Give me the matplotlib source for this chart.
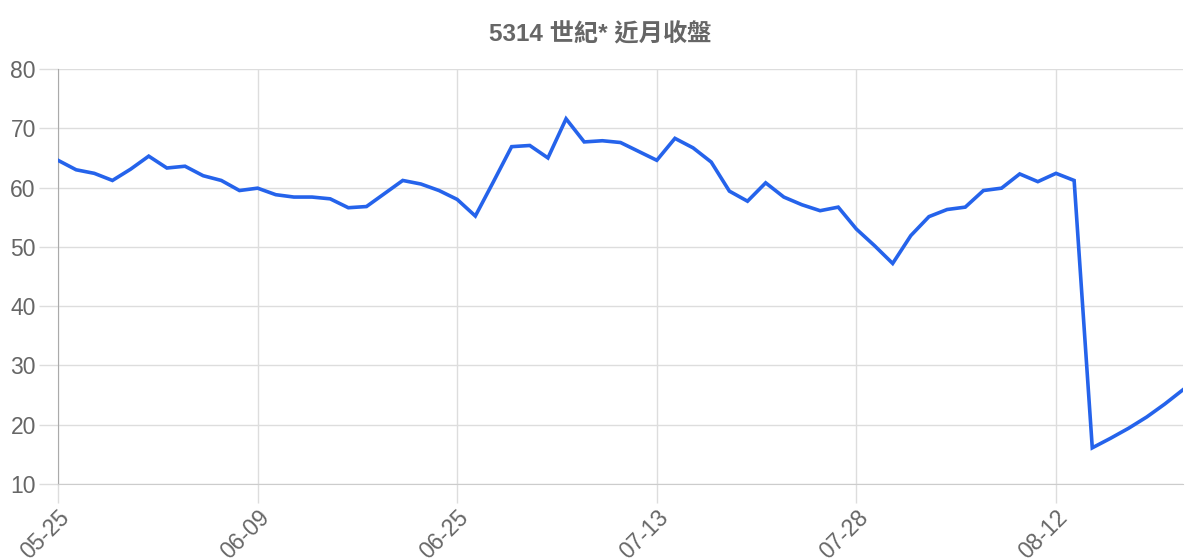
import matplotlib
matplotlib.use('Agg')
import matplotlib.pyplot as plt

# Data
dates = ['05-25', '05-26', '05-27', '05-29', '05-30', '05-31', '06-01', '06-02', '06-05', '06-06', '06-08',
         '06-09', '06-10', '06-12', '06-13', '06-15', '06-16', '06-17', '06-19', '06-20', '06-22', '06-23',
         '06-25', '06-26', '06-27', '06-29', '06-30', '07-01', '07-03', '07-05', '07-06', '07-08', '07-10',
         '07-13', '07-14', '07-15', '07-17', '07-18', '07-20', '07-21', '07-22', '07-24', '07-25', '07-27',
         '07-28', '07-29', '07-31', '08-01', '08-03', '08-04', '08-05', '08-07', '08-08', '08-10', '08-11',
         '08-12', '08-14', '08-15', '08-17', '08-18', '08-19', '08-21', '08-22']
close = [64.6, 63.0, 62.4, 61.2, 63.1, 65.3, 63.3, 63.6, 62.0, 61.2, 59.5,
         59.9, 58.8, 58.4, 58.4, 58.1, 56.6, 56.8, 59.0, 61.2, 60.6, 59.5,
         58.0, 55.2, 61.0, 66.9, 67.1, 65.0, 71.6, 67.7, 67.9, 67.6, 66.1,
         64.6, 68.3, 66.7, 64.3, 59.4, 57.7, 60.8, 58.4, 57.1, 56.1, 56.7,
         53.0, 50.2, 47.2, 51.9, 55.1, 56.3, 56.7, 59.5, 59.9, 62.3, 61.0,
         62.4, 61.2, 16.1, 17.7, 19.4, 21.3, 23.5, 25.9]
yticks = [10, 20, 30, 40, 50, 60, 70, 80]
label_step = 11

plt.rcParams['font.family'] = ['Liberation Sans', 'Noto Sans CJK TC', 'DejaVu Sans']

fig = plt.figure(figsize=(12, 5.6), dpi=100)
ax = fig.add_axes([58 / 1200, 1 - 484 / 560, 1125 / 1200, 415 / 560])

x = list(range(len(close)))
ax.plot(x, close, color='#2563eb', linewidth=2.6, solid_joinstyle='miter', zorder=3)

ax.set_xlim(0, len(close) - 1)
ax.set_ylim(10, 80)

tick_idx = x[::label_step]
ax.set_xticks(tick_idx)
ax.set_xticklabels([dates[i] for i in tick_idx], rotation=45, ha='right', rotation_mode='anchor')
ax.set_yticks(yticks)

ax.grid(True, color='#dddddd', linewidth=1)
ax.set_axisbelow(True)
ax.tick_params(axis='both', length=14, width=1, color='#dddddd', labelcolor='#666666',
               labelsize=16.5, pad=2)

for side in ['top', 'right']:
    ax.spines[side].set_visible(False)
ax.spines['left'].set_color('#aaaaaa')
ax.spines['bottom'].set_color('#cccccc')

fig.text(0.5, 1 - 35 / 560, '5314 世紀* 近月收盤', ha='center', va='center',
         fontsize=17.5, fontweight='bold', color='#666666')

fig.savefig('out.png', dpi=100)
